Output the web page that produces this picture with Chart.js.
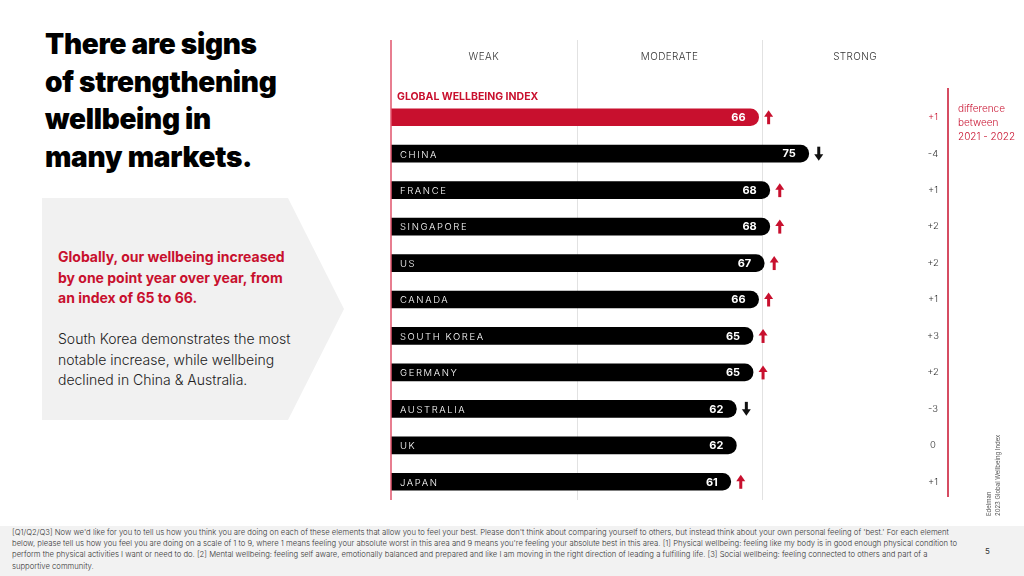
<!DOCTYPE html>
<html>
<head>
<meta charset="utf-8">
<script src="https://cdn.jsdelivr.net/npm/chart.js@4/dist/chart.umd.min.js"></script>
<style>
  html, body { margin: 0; padding: 0; background: #fff; }
  body { width: 1024px; height: 576px; position: relative; overflow: hidden; font-family: "Inter", "Noto Sans", sans-serif; }
  .title { position: absolute; left: 45px; top: 26px; font-size: 28px; line-height: 37.5px; font-weight: 900; letter-spacing: -0.3px; color: #000; }
  .panel { position: absolute; left: 42px; top: 198px; width: 303px; height: 222px; background: #f1f1f1;
           clip-path: polygon(0 0, 246px 0, 302px 111px, 246px 222px, 0 222px); }
  .lead { position: absolute; left: 58px; top: 247px; font-size: 14px; line-height: 20.5px; font-weight: 700; color: #c8102e; letter-spacing: 0px; }
  .body { position: absolute; left: 58px; top: 329px; font-size: 14px; line-height: 20.5px; font-weight: 300; color: #222; }
  .chartbox { position: absolute; left: 380px; top: 30px; width: 644px; height: 480px; }
  .diffnote { position: absolute; left: 958px; top: 101px; font-size: 10px; line-height: 14px; font-weight: 300; color: #c8102e; }
  .footer { position: absolute; left: 0; top: 526px; width: 1024px; height: 50px; background: #f2f2f2; }
  .footnote { position: absolute; left: 12px; top: 527px; font-size: 7.7px; line-height: 11.2px; font-weight: 300; color: #333; white-space: nowrap; }
  .pagenum { position: absolute; left: 985px; top: 546px; font-size: 8px; color: #333; }
  .source { position: absolute; left: 984px; width: 90px; transform: rotate(-90deg); transform-origin: left top;
            font-size: 6px; line-height: 9px; color: #555; white-space: nowrap; }
</style>
</head>
<body>
<div class="title">There are signs<br>of strengthening<br>wellbeing in<br>many markets.</div>
<div class="panel"></div>
<div class="lead">Globally, our wellbeing increased<br>by one point year over year, from<br>an index of 65 to 66.</div>
<div class="body">South Korea demonstrates the most<br>notable increase, while wellbeing<br>declined in China &amp; Australia.</div>
<div class="chartbox"><canvas id="chart"></canvas></div>
<div class="diffnote">difference<br>between<br>2021 - 2022</div>
<div class="footer"></div>
<div class="footnote">[Q1/Q2/Q3] Now we'd like for you to tell us how you think you are doing on each of these elements that allow you to feel your best. Please don't think about comparing yourself to others, but instead think about your own personal feeling of 'best.' For each element<br>below, please tell us how you feel you are doing on a scale of 1 to 9, where 1 means feeling your absolute worst in this area and 9 means you're feeling your absolute best in this area. [1] Physical wellbeing: feeling like my body is in good enough physical condition to<br>perform the physical activities I want or need to do. [2] Mental wellbeing: feeling self aware, emotionally balanced and prepared and like I am moving in the right direction of leading a fulfilling life. [3] Social wellbeing: feeling connected to others and part of a<br>supportive community.</div>
<div class="pagenum">5</div>
<div class="source" style="top:516px;">Edelman<br>2023 Global Wellbeing Index</div>

<script>
// Data
const countries = ["GLOBAL WELLBEING INDEX", "CHINA", "FRANCE", "SINGAPORE", "US", "CANADA", "SOUTH KOREA", "GERMANY", "AUSTRALIA", "UK", "JAPAN"]
const scores = [66, 75, 68, 68, 67, 66, 65, 65, 62, 62, 61]
const changes = [1, -4, 1, 2, 2, 1, 3, 2, -3, 0, 1]
const bands = ["WEAK", "MODERATE", "STRONG"]
const bandEdges = [0, 100 / 3, 200 / 3, 100]

const RED = "#c8102e"

function drawArrow(ctx, x, y, up, color) {
  const h = 14
  const dir = up ? -1 : 1
  const tipY = y + dir * h / 2
  const baseY = y - dir * h / 2
  ctx.save()
  ctx.fillStyle = color
  // shaft
  ctx.fillRect(x - 1.5, Math.min(baseY, tipY - dir * 5), 3, h - 5)
  // head
  ctx.beginPath()
  ctx.moveTo(x, tipY)
  ctx.lineTo(x - 4.5, tipY - dir * 6.5)
  ctx.lineTo(x + 4.5, tipY - dir * 6.5)
  ctx.closePath()
  ctx.fill()
  ctx.restore()
}

const slidePlugin = {
  id: "slide",
  beforeDatasetsDraw(chart) {
    const { ctx, chartArea, scales } = chart
    const top = chartArea.top - 59
    ctx.save()
    // band grid lines
    ctx.strokeStyle = "#e2e2e2"
    ctx.lineWidth = 1
    ;[bandEdges[1], bandEdges[2]].forEach((v) => {
      const x = Math.round(scales.x.getPixelForValue(v)) + 0.5
      ctx.beginPath()
      ctx.moveTo(x, top)
      ctx.lineTo(x, chartArea.bottom)
      ctx.stroke()
    })
    // right red rule
    const xr = scales.x.getPixelForValue(100)
    ctx.strokeStyle = RED
    ctx.lineWidth = 1.5
    ctx.beginPath()
    ctx.moveTo(xr, chartArea.top - 11)
    ctx.lineTo(xr, chartArea.bottom - 3)
    ctx.stroke()
    // band labels
    ctx.fillStyle = "#333"
    ctx.font = "300 10px Inter"
    ctx.letterSpacing = "0.4px"
    ctx.textAlign = "center"
    ctx.textBaseline = "middle"
    bands.forEach((b, i) => {
      const x = scales.x.getPixelForValue((bandEdges[i] + bandEdges[i + 1]) / 2)
      ctx.fillText(b, x, top + 17)
    })
    ctx.restore()
  },
  afterDatasetsDraw(chart) {
    const { ctx, chartArea, scales } = chart
    const meta = chart.getDatasetMeta(0)
    const x0 = scales.x.getPixelForValue(0)
    ctx.save()
    // left red rule
    ctx.strokeStyle = "#e0536b"
    ctx.lineWidth = 1.5
    ctx.beginPath()
    ctx.moveTo(x0, chartArea.top - 59)
    ctx.lineTo(x0, chartArea.bottom)
    ctx.stroke()

    meta.data.forEach((bar, i) => {
      const y = bar.y
      // category name
      if (i === 0) {
        ctx.fillStyle = RED
        ctx.font = "700 10.5px Inter"
        ctx.letterSpacing = "0px"
        ctx.textAlign = "left"
        ctx.textBaseline = "middle"
        ctx.fillText(countries[i], x0 + 6, y - 20)
      } else {
        ctx.fillStyle = "#fff"
        ctx.font = "300 9.5px Inter"
        ctx.letterSpacing = "1.6px"
        ctx.textAlign = "left"
        ctx.textBaseline = "middle"
        ctx.fillText(countries[i], x0 + 9, y + 1)
      }
      // value
      ctx.fillStyle = "#fff"
      ctx.font = "700 11px Inter"
      ctx.letterSpacing = "0px"
      ctx.textAlign = "right"
      ctx.fillText(String(scores[i]), bar.x - 13, y + 0.5)
      // arrow
      if (changes[i] > 0) drawArrow(ctx, bar.x + 10, y, true, RED)
      if (changes[i] < 0) drawArrow(ctx, bar.x + 10, y, false, "#111")
      // difference
      const d = changes[i] > 0 ? "+" + changes[i] : String(changes[i])
      ctx.fillStyle = i === 0 ? RED : "#333"
      ctx.font = "300 9.5px Inter"
      ctx.textAlign = "center"
      ctx.fillText(d, scales.x.getPixelForValue(100) - 15, y)
    })
    ctx.restore()
  },
}

new Chart(document.getElementById("chart"), {
  type: "bar",
  data: {
    labels: countries,
    datasets: [
      {
        data: scores,
        backgroundColor: scores.map((v, i) => (i === 0 ? RED : "#000")),
        barThickness: 17,
        borderRadius: 9,
      },
    ],
  },
  options: {
    indexAxis: "y",
    responsive: true,
    maintainAspectRatio: false,
    animation: false,
    layout: { padding: { left: 11, right: 76, top: 69, bottom: 10 } },
    scales: {
      x: { display: false, min: 0, max: 100 },
      y: { display: false },
    },
    plugins: {
      legend: { display: false },
      tooltip: { enabled: false },
    },
  },
  plugins: [slidePlugin],
})
</script>
</body>
</html>
